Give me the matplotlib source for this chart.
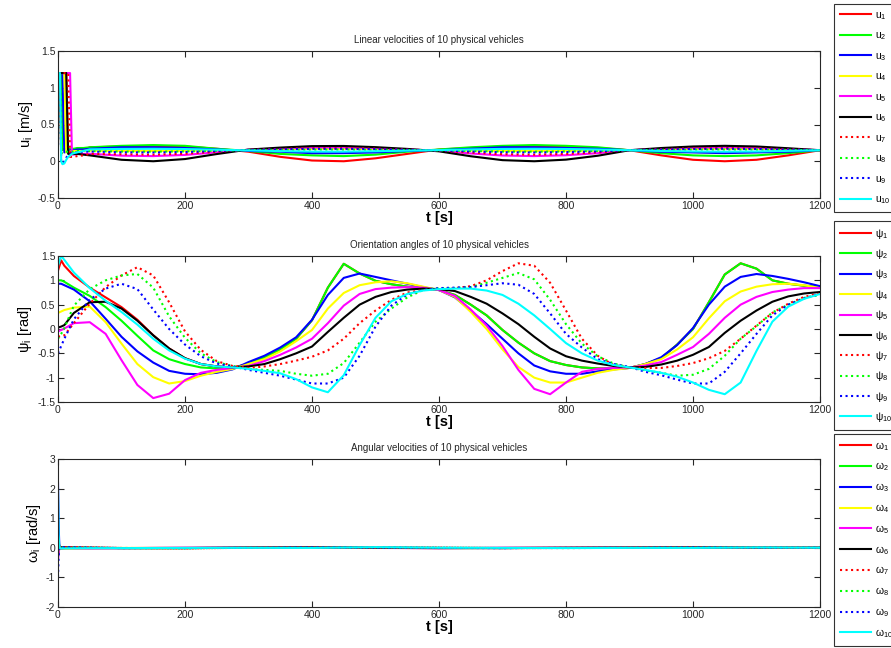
import numpy as np
import matplotlib
matplotlib.use('Agg')
import matplotlib.pyplot as plt
from matplotlib.ticker import FuncFormatter

plt.rcParams['font.family'] = ['Liberation Sans', 'DejaVu Sans']
plt.rcParams['mathtext.default'] = 'regular'
plt.rcParams['axes.unicode_minus'] = False

# ---- linear velocities u_i [m/s]
u_t = [0, 3, 5, 7, 10, 13, 16, 19, 22, 25, 30, 40] + list(range(50, 1201, 50))
u_1 = [0.2, 1.2, 1.2, 1.2, 1.2, 1.2, 0.12, 0.1, 0.1, 0.11, 0.12, 0.15,
       0.19, 0.2, 0.21, 0.2, 0.17, 0.13, 0.06, 0.01, 0.0, 0.04, 0.1, 0.16,
       0.18, 0.2, 0.21, 0.2, 0.18, 0.15, 0.08, 0.02, 0.0, 0.02, 0.08, 0.15]
u_2 = [1.2, 1.2, 1.2, 0.15, 0.17, 0.17, 0.17, 0.17, 0.17, 0.17, 0.18, 0.18,
       0.19, 0.21, 0.22, 0.21, 0.17, 0.14, 0.10, 0.08, 0.07, 0.09, 0.13, 0.16,
       0.19, 0.21, 0.22, 0.21, 0.19, 0.15, 0.11, 0.08, 0.07, 0.08, 0.11, 0.15]
u_3 = [1.2, 1.2, 1.2, 1.2, 0.12, 0.13, 0.14, 0.15, 0.15, 0.15, 0.16, 0.16,
       0.17, 0.19, 0.19, 0.18, 0.16, 0.14, 0.13, 0.11, 0.11, 0.12, 0.14, 0.15,
       0.17, 0.19, 0.19, 0.18, 0.17, 0.15, 0.13, 0.12, 0.11, 0.12, 0.13, 0.15]
u_4 = [1.2, 1.2, 1.2, 1.2, 1.2, 0.12, 0.13, 0.13, 0.14, 0.14, 0.14, 0.14,
       0.144, 0.141, 0.14, 0.142, 0.147, 0.153, 0.162, 0.169, 0.169, 0.164, 0.156, 0.149,
       0.145, 0.141, 0.14, 0.142, 0.145, 0.15, 0.16, 0.167, 0.17, 0.167, 0.159, 0.15]
u_5 = [1.2, 1.2, 1.2, 1.2, 1.2, 1.2, 1.2, 1.2, 0.09, 0.09, 0.1, 0.1,
       0.102, 0.076, 0.07, 0.086, 0.122, 0.156, 0.174, 0.187, 0.189, 0.178, 0.162, 0.142,
       0.106, 0.078, 0.07, 0.082, 0.11, 0.15, 0.17, 0.184, 0.19, 0.184, 0.168, 0.15]
u_6 = [1.2, 1.2, 1.2, 1.2, 1.2, 1.2, 0.1, 0.1, 0.1, 0.1, 0.1, 0.09,
       0.08, 0.02, 0.0, 0.03, 0.098, 0.159, 0.186, 0.206, 0.208, 0.192, 0.168, 0.135,
       0.068, 0.015, 0.0, 0.022, 0.075, 0.15, 0.18, 0.201, 0.21, 0.201, 0.177, 0.15]
u_7 = [1.2, 1.2, 1.2, 1.2, 1.2, 1.2, 1.2, 0.06, 0.06, 0.06, 0.07, 0.08,
       0.1, 0.095, 0.09, 0.102, 0.129, 0.155, 0.168, 0.178, 0.179, 0.171, 0.159, 0.144,
       0.117, 0.096, 0.09, 0.099, 0.12, 0.15, 0.165, 0.176, 0.18, 0.176, 0.164, 0.15]
u_8 = [1.2, 1.2, 0.1, 0.12, 0.13, 0.13, 0.13, 0.13, 0.13, 0.13, 0.14, 0.14,
       0.138, 0.132, 0.13, 0.134, 0.143, 0.152, 0.156, 0.159, 0.16, 0.157, 0.153, 0.148,
       0.139, 0.132, 0.13, 0.133, 0.14, 0.15, 0.155, 0.159, 0.16, 0.159, 0.155, 0.15]
u_9 = [1.2, 1.2, 0.0, -0.03, 0.0, 0.05, 0.08, 0.1, 0.11, 0.12, 0.12, 0.13,
       0.132, 0.122, 0.12, 0.126, 0.14, 0.153, 0.162, 0.169, 0.169, 0.164, 0.156, 0.147,
       0.134, 0.123, 0.12, 0.125, 0.135, 0.15, 0.16, 0.167, 0.17, 0.167, 0.159, 0.15]
u_10 = [1.2, 1.2, 0.0, -0.04, -0.03, 0.02, 0.06, 0.08, 0.1, 0.11, 0.12, 0.14,
        0.162, 0.168, 0.17, 0.166, 0.157, 0.147, 0.138, 0.131, 0.131, 0.136, 0.144, 0.152,
        0.161, 0.168, 0.17, 0.167, 0.16, 0.15, 0.14, 0.133, 0.13, 0.133, 0.141, 0.15]

# ---- orientation angles psi_i [rad]
psi_t = [0, 5, 10] + list(range(25, 1201, 25))
psi_1 = [1.2, 1.41, 1.3, 1.09, 0.85, 0.65, 0.45, 0.19, -0.13, -0.4, -0.6, -0.72, -0.77, -0.79,
         -0.72, -0.58, -0.42, -0.2, 0.18, 0.85, 1.34, 1.14, 0.99, 0.92, 0.87, 0.83, 0.8,
         0.7, 0.5, 0.28, -0.02, -0.28, -0.5, -0.66, -0.74, -0.79, -0.81, -0.81, -0.8,
         -0.72, -0.6, -0.32, 0.0, 0.55, 1.12, 1.35, 1.24, 1.0, 0.93, 0.89, 0.86]
psi_2 = [1.0, 1.0, 0.97, 0.85, 0.68, 0.45, 0.17, -0.14, -0.44, -0.62, -0.72, -0.79, -0.81, -0.8,
         -0.72, -0.58, -0.42, -0.2, 0.18, 0.85, 1.34, 1.14, 0.99, 0.92, 0.87, 0.83, 0.8,
         0.7, 0.5, 0.28, -0.02, -0.28, -0.5, -0.66, -0.74, -0.79, -0.81, -0.81, -0.8,
         -0.72, -0.6, -0.32, 0.0, 0.55, 1.12, 1.35, 1.24, 1.0, 0.93, 0.89, 0.86]
psi_3 = [0.93, 0.93, 0.9, 0.81, 0.57, 0.21, -0.16, -0.46, -0.69, -0.86, -0.92, -0.93, -0.9, -0.83,
         -0.68, -0.55, -0.38, -0.17, 0.19, 0.7, 1.05, 1.14, 1.07, 1.0, 0.93, 0.86, 0.8,
         0.65, 0.38, 0.1, -0.2, -0.5, -0.75, -0.87, -0.92, -0.92, -0.87, -0.83, -0.8,
         -0.72, -0.58, -0.33, 0.02, 0.5, 0.87, 1.07, 1.13, 1.09, 1.03, 0.96, 0.88]
psi_4 = [0.33, 0.36, 0.39, 0.44, 0.46, 0.14, -0.3, -0.72, -0.99, -1.12, -1.07, -0.96, -0.88, -0.82,
         -0.72, -0.62, -0.46, -0.25, -0.02, 0.42, 0.74, 0.9, 0.96, 0.98, 0.94, 0.87, 0.8,
         0.66, 0.35, 0.0, -0.42, -0.78, -1.0, -1.1, -1.1, -1.0, -0.9, -0.84, -0.8,
         -0.72, -0.62, -0.42, -0.17, 0.22, 0.57, 0.77, 0.87, 0.92, 0.93, 0.9, 0.84]
psi_5 = [-0.05, -0.02, 0.01, 0.12, 0.14, -0.1, -0.64, -1.15, -1.42, -1.33, -1.05, -0.9, -0.84, -0.8,
         -0.76, -0.66, -0.53, -0.38, -0.2, 0.12, 0.48, 0.72, 0.82, 0.85, 0.86, 0.85, 0.8,
         0.68, 0.4, 0.07, -0.35, -0.84, -1.23, -1.34, -1.1, -0.88, -0.82, -0.8, -0.79,
         -0.75, -0.68, -0.53, -0.37, -0.1, 0.23, 0.5, 0.66, 0.76, 0.81, 0.84, 0.84]
psi_6 = [0.03, 0.05, 0.08, 0.33, 0.55, 0.56, 0.42, 0.17, -0.13, -0.4, -0.6, -0.72, -0.77, -0.79,
         -0.77, -0.72, -0.62, -0.5, -0.36, -0.06, 0.23, 0.5, 0.66, 0.76, 0.81, 0.83, 0.82,
         0.78, 0.66, 0.52, 0.32, 0.1, -0.16, -0.4, -0.56, -0.65, -0.71, -0.76, -0.79,
         -0.78, -0.73, -0.65, -0.53, -0.37, -0.08, 0.17, 0.38, 0.56, 0.67, 0.73, 0.76]
psi_7 = [-0.16, -0.14, -0.13, 0.12, 0.52, 0.86, 1.1, 1.27, 1.1, 0.55, -0.05, -0.43, -0.66, -0.76,
         -0.8, -0.77, -0.72, -0.65, -0.57, -0.44, -0.2, 0.12, 0.38, 0.6, 0.75, 0.8, 0.82,
         0.84, 0.88, 1.0, 1.19, 1.35, 1.3, 0.95, 0.38, -0.2, -0.55, -0.74, -0.79,
         -0.8, -0.8, -0.76, -0.7, -0.6, -0.45, -0.2, 0.07, 0.33, 0.52, 0.66, 0.73]
psi_8 = [-0.2, -0.1, 0.02, 0.48, 0.82, 1.0, 1.1, 1.13, 0.85, 0.26, -0.18, -0.5, -0.68, -0.76,
         -0.82, -0.84, -0.86, -0.92, -0.96, -0.92, -0.7, -0.28, 0.15, 0.42, 0.65, 0.8, 0.84,
         0.84, 0.86, 0.95, 1.05, 1.15, 1.02, 0.6, 0.1, -0.3, -0.56, -0.71, -0.79,
         -0.85, -0.9, -0.96, -0.94, -0.82, -0.55, -0.2, 0.06, 0.34, 0.5, 0.64, 0.7]
psi_9 = [-0.5, -0.35, -0.2, 0.2, 0.6, 0.83, 0.93, 0.82, 0.4, 0.0, -0.32, -0.56, -0.71, -0.77,
         -0.84, -0.9, -0.96, -1.04, -1.12, -1.12, -1.0, -0.55, 0.05, 0.48, 0.71, 0.8, 0.84,
         0.85, 0.86, 0.9, 0.94, 0.91, 0.72, 0.32, -0.1, -0.38, -0.62, -0.72, -0.78,
         -0.88, -0.95, -1.04, -1.12, -1.12, -0.88, -0.5, -0.1, 0.28, 0.5, 0.63, 0.72]
psi_10 = [1.3, 1.5, 1.42, 1.16, 0.84, 0.58, 0.35, 0.09, -0.2, -0.44, -0.61, -0.72, -0.77, -0.79,
          -0.82, -0.86, -0.91, -1.03, -1.2, -1.3, -0.95, -0.33, 0.23, 0.57, 0.72, 0.79, 0.82,
          0.83, 0.83, 0.79, 0.7, 0.52, 0.28, 0.0, -0.29, -0.5, -0.65, -0.74, -0.79,
          -0.84, -0.9, -0.98, -1.1, -1.25, -1.34, -1.1, -0.45, 0.15, 0.46, 0.62, 0.72]

# ---- angular velocities omega_i [rad/s]
w_t = [0, 1, 2, 3, 5, 10, 25, 50] + list(range(100, 1201, 100))
w_1 = [0.0, 0.25, 0.05, -0.02, -0.02, -0.02, -0.01, -0.008, -0.01, -0.008, 0.002, 0.02, 0.002, -0.008, -0.008, 0.0, 0.0, 0.02, 0.003, 0.001]
w_2 = [0.0, -0.2, 0.0, -0.01, -0.01, -0.008, -0.008, -0.009, -0.012, -0.008, 0.0, 0.02, 0.001, -0.009, -0.008, 0.0, 0.0, 0.02, 0.002, 0.001]
w_3 = [2.2, 0.8, 0.1, 0.0, -0.01, -0.01, -0.015, -0.012, -0.01, -0.005, 0.01, 0.01, -0.002, -0.01, -0.008, 0.0, 0.01, 0.008, -0.002, 0.001]
w_4 = [0.2, 0.1, 0.02, 0.0, 0.0, -0.02, -0.02, -0.018, -0.005, 0.0, 0.008, 0.008, -0.003, -0.012, -0.002, 0.0, 0.008, 0.005, -0.001, 0.0]
w_5 = [-0.4, -0.2, 0.0, 0.01, 0.01, 0.01, -0.01, -0.02, -0.01, 0.005, 0.005, 0.006, -0.005, -0.015, 0.005, 0.002, 0.006, 0.004, -0.002, 0.0]
w_6 = [0.1, 0.2, 0.05, 0.02, 0.02, 0.015, 0.01, 0.004, -0.008, -0.01, 0.004, 0.01, 0.002, -0.006, -0.008, -0.004, 0.004, 0.008, 0.003, 0.001]
w_7 = [-0.2, 0.1, 0.05, 0.02, 0.02, 0.016, 0.015, 0.01, -0.005, -0.02, 0.0, 0.004, 0.008, 0.01, -0.01, -0.01, 0.0, 0.006, 0.008, 0.002]
w_8 = [-0.3, 0.1, 0.05, 0.02, 0.02, 0.02, 0.015, 0.008, -0.01, -0.018, 0.0, 0.0, 0.015, 0.004, -0.008, -0.006, 0.0, 0.008, 0.006, 0.002]
w_9 = [-1.0, -0.3, 0.0, 0.02, 0.02, 0.02, 0.014, 0.006, -0.008, -0.01, -0.003, 0.01, 0.012, 0.0, -0.012, -0.005, -0.002, 0.012, 0.006, 0.003]
w_10 = [2.0, 0.45, 0.1, -0.01, -0.02, -0.02, -0.015, -0.012, -0.01, -0.003, -0.001, -0.005, 0.022, 0.003, -0.002, -0.01, -0.003, -0.004, 0.012, 0.003]

colors = ['#ff0000', '#00ff00', '#0000ff', '#ffff00', '#ff00ff', '#000000',
          '#ff0000', '#00ff00', '#0000ff', '#00ffff']
styles = ['-', '-', '-', '-', '-', '-', ':', ':', ':', '-']

W, H = 891, 648
fig = plt.figure(figsize=(W/100, H/100), dpi=100)
fg = '#262626'

def box(x0, y0, x1, y1):
    return [x0/W, 1-y1/H, (x1-x0)/W, (y1-y0)/H]

# (axes box, t, series, title, ylabel, ylim, yticks, legend symbol, legend top px, legend row spacing)
panels = [
    (box(58, 51, 820, 198), u_t, [u_1, u_2, u_3, u_4, u_5, u_6, u_7, u_8, u_9, u_10],
     'Linear velocities of 10 physical vehicles', '$u_i$ [m/s]', (-0.5, 1.5), np.arange(-0.5, 1.51, 0.5),
     'u', 4, 0.84),
    (box(58, 256, 820, 402), psi_t, [psi_1, psi_2, psi_3, psi_4, psi_5, psi_6, psi_7, psi_8, psi_9, psi_10],
     'Orientation angles of 10 physical vehicles', r'$\psi_i$ [rad]', (-1.5, 1.5), np.arange(-1.5, 1.51, 0.5),
     r'\psi', 221, 0.61),
    (box(58, 459, 820, 607), w_t, [w_1, w_2, w_3, w_4, w_5, w_6, w_7, w_8, w_9, w_10],
     'Angular velocities of 10 physical vehicles', r'$\omega_i$ [rad/s]', (-2, 3), np.arange(-2, 3.1, 1),
     r'\omega', 434, 0.77),
]

fmt = FuncFormatter(lambda v, p: '%g' % round(v, 3))
for rect, t, series, title, ylab, ylim, yticks, sym, legtop, lsp in panels:
    ax = fig.add_axes(rect)
    for i, y in enumerate(series):
        ax.plot(t, y, color=colors[i], ls=styles[i], lw=1.5, label='$%s_{%d}$' % (sym, i+1))
    ax.set_xlim(0, 1200)
    ax.set_ylim(*ylim)
    ax.set_xticks(np.arange(0, 1201, 200))
    ax.set_yticks(yticks)
    ax.xaxis.set_major_formatter(fmt)
    ax.yaxis.set_major_formatter(fmt)
    ax.tick_params(direction='in', top=True, right=True, length=4, width=0.8,
                   labelsize=7.5, colors=fg, pad=2)
    for s in ax.spines.values():
        s.set_color(fg)
        s.set_linewidth(0.8)
    ax.set_title(title, fontsize=7, color=fg, pad=6)
    ax.set_xlabel('t [s]', fontsize=10.5, fontweight='bold', labelpad=0)
    ax.set_ylabel(ylab, fontsize=10.5, labelpad=2)
    leg = ax.legend(loc='upper left', bbox_to_anchor=(834/W, 1-legtop/H), bbox_transform=fig.transFigure,
                    fontsize=7.5, frameon=True, fancybox=False, edgecolor='k', borderaxespad=0,
                    handlelength=3.0, handletextpad=0.35, labelspacing=lsp, borderpad=0.55)
    leg.get_frame().set_linewidth(0.8)

fig.savefig('out.png', dpi=100)
